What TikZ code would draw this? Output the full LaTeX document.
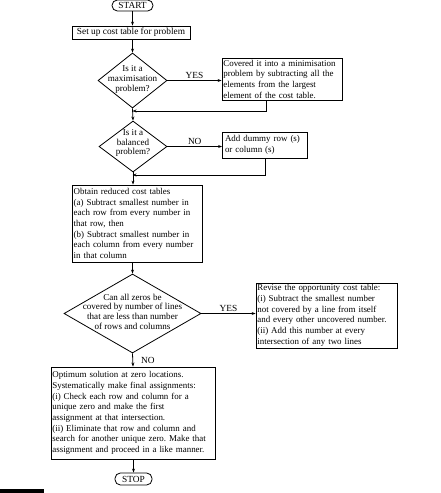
\documentclass[tikz,border=0pt]{standalone}
\usepackage{fontspec}
\setmainfont{Liberation Serif}
\usetikzlibrary{shapes.geometric,arrows.meta}

\newcommand{\boxfont}{\fontsize{6.7}{8}\selectfont\frenchspacing\hyphenpenalty=10000\spaceskip=0.25em plus 0.1em minus 0.1em\relax}

\tikzset{every picture/.style={line width=0.6pt}}
\tikzset{
  flowbox/.style={draw, rectangle, inner ysep=1pt, align=left, font=\boxfont},
  decide/.style={draw, diamond, inner sep=0pt},
  dectext/.style={align=center, inner sep=0pt, font=\fontsize{6.8}{7.3}\selectfont},
  terminal/.style={draw, rectangle, rounded corners=4pt, inner sep=0pt, font=\fontsize{7}{8}\selectfont},
  flow/.style={-{Stealth[length=3pt,width=2.2pt]}},
  lbl/.style={inner sep=1pt, font=\fontsize{7}{8}\selectfont}
}

\begin{document}
\begin{tikzpicture}[x=0.75pt,y=0.75pt,yscale=-1,xscale=1]
\useasboundingbox (0,0) rectangle (440,493);

% Terminals
\node [terminal, minimum width=30.75pt, minimum height=8.25pt] (start) at (132.5,5.5) {START};
\node [terminal, minimum width=27.75pt, minimum height=9pt] (stop) at (133.5,479) {STOP};

% Process boxes
\node [flowbox, align=center, inner xsep=0pt, minimum width=88.5pt, minimum height=9.75pt, font=\fontsize{7}{8}\selectfont] (setup) at (131,32.5) {Set up cost table for problem};
\node [flowbox, text width=88pt, inner xsep=1pt, minimum height=31.5pt] (conv) at (282,79) {Covered it into a minimisation\\problem by subtracting all the\\elements from the largest\\element of the cost table.};
\node [flowbox, text width=60pt, inner xsep=1.875pt, minimum height=19.5pt] (dummy) at (265,145) {Add dummy row (s)\\or column (s)};
\node [flowbox, text width=95pt, inner xsep=1.25pt, minimum height=57.75pt] (reduce) at (137,223.5) {Obtain reduced cost tables\\(a) Subtract smallest number in\\each row from every number in\\that row, then\\(b) Subtract smallest number in\\each column from every number\\in that column};
\node [flowbox, text width=103.75pt, inner xsep=1pt, minimum height=48.75pt] (revise) at (326.5,315.5) {Revise the opportunity cost table:\\(i) Subtract the smallest number\\not covered by a line from itself\\and every other uncovered number.\\(ii) Add this number at every\\intersection of any two lines};
\node [flowbox, text width=121pt, inner xsep=1pt, minimum height=69pt] (optimum) at (133,413) {Optimum solution at zero locations.\\Systematically make final assignments:\\(i) Check each row and column for a\\unique zero and make the first\\assignment at that intersection.\\(ii) Eliminate that row and column and\\search for another unique zero. Make that\\assignment and proceed in a like manner.};

% Decisions
\node [decide, minimum width=51.75pt, minimum height=41.25pt] (max) at (132.5,80.5) {};
\node [dectext] (maxtxt) at (132.5,79.5) {Is it a\\maximisation\\problem?};
\node [decide, minimum width=51pt, minimum height=38.25pt] (bal) at (133,146.5) {};
\node [dectext] (baltxt) at (133,143) {Is it a\\balanced\\problem?};
\node [decide, minimum width=102.75pt, minimum height=59.25pt] (cover) at (132.5,313.5) {};
\node [dectext] (covertxt) at (132.5,311.5) {Can all zeros be\\covered by number of lines\\that are less than number\\of rows and columns};

% Junctions
\coordinate (j1) at (132.5,111);
\coordinate (j2) at (132.5,175);
\coordinate (r1x) at (266,0);

% Connectors
\draw [flow] (start) -- (start |- setup.north);
\draw [flow] (setup.south -| max.north) -- (max.north);
\draw [flow] (max.east) -- node [lbl, above] {YES} (conv.west |- max.east);
\draw [flow] (conv.south -| r1x) |- (j1);
\draw [flow] (max.south) -- (bal.north);
\draw [flow] (bal.east) -- node [lbl, above] {NO} (dummy.west |- bal.east);
\draw [flow] (dummy.south) |- (j2);
\draw [flow] (bal.south) -- (bal.south |- reduce.north);
\draw [flow] (cover.north |- reduce.south) -- (cover.north);
\draw [flow] (cover.east) -- node [lbl, above] {YES} (revise.west |- cover.east);
\draw [flow] (cover.south) -- node [lbl, right, xshift=5pt] {NO} (optimum.north);
\draw [flow] (optimum.south -| stop.north) -- (stop.north);

% Bar
\fill (0,489) rectangle (44,493);

\end{tikzpicture}
\end{document}
